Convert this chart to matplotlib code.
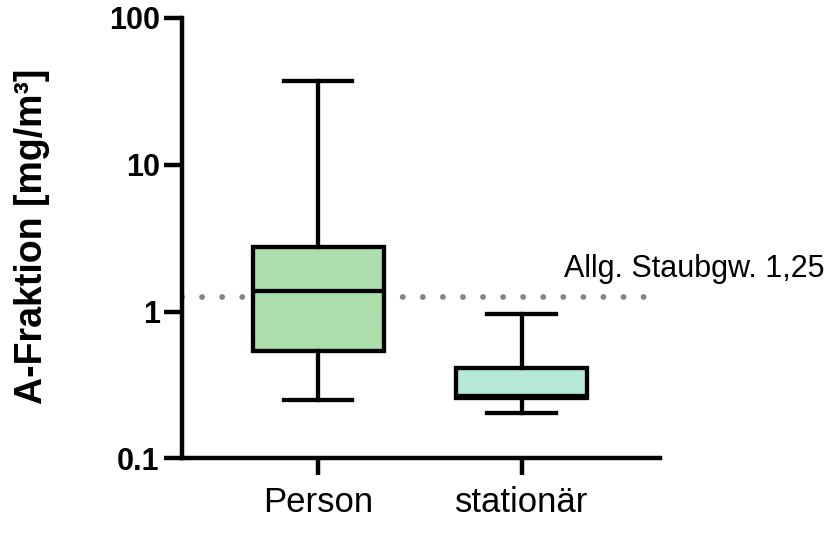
import matplotlib.pyplot as plt
from matplotlib.ticker import FixedLocator, NullLocator

plt.rcParams["font.family"] = ["Liberation Sans", "DejaVu Sans"]

# box summary per group (mg/m³)
groups = ["Person", "stationär"]
whisker_low = [0.252, 0.205]
q1 = [0.535, 0.26]
medians = [1.39, 0.265]
q3 = [2.77, 0.416]
whisker_high = [37.3, 0.955]
fills = ["#addfad", "#b5e8d5"]

limit_value = 1.25
limit_label = "Allg. Staubgw. 1,25"
y_ticks = [0.1, 1, 10, 100]
y_tick_labels = ["0.1", "1", "10", "100"]

stats = [
    {"label": g, "whislo": lo, "q1": a, "med": m, "q3": b, "whishi": hi}
    for g, lo, a, m, b, hi in zip(groups, whisker_low, q1, medians, q3, whisker_high)
]

fig = plt.figure(figsize=(8.31, 5.35), dpi=100)
ax = fig.add_axes([0.219, 0.143, 0.575, 0.824])

lw = 3.1
positions = [1, 2]
bp = ax.bxp(
    stats,
    positions=positions,
    widths=0.645,
    patch_artist=True,
    showfliers=False,
    boxprops=dict(linewidth=lw, edgecolor="black"),
    medianprops=dict(linewidth=lw, color="black", solid_capstyle="butt"),
    whiskerprops=dict(linewidth=lw, color="black"),
    capprops=dict(linewidth=lw, color="black"),
    capwidths=0.335,
)
for patch, c in zip(bp["boxes"], fills):
    patch.set_facecolor(c)

ax.set_yscale("log")
ax.set_ylim(0.1, 100)
ax.set_xlim(0.33, 2.68)

# reference limit line
ax.plot([0.33, 2.6], [limit_value, limit_value], color="#858585",
        linewidth=4.2, linestyle=(0, (0.01, 3.43)), dash_capstyle="round",
        zorder=1)
ax.text(2.21, 1.73, limit_label, fontsize=22, ha="left",
        va="baseline", clip_on=False)

ax.yaxis.set_major_locator(FixedLocator(y_ticks))
ax.yaxis.set_minor_locator(NullLocator())
ax.set_yticks(y_ticks)
ax.set_yticklabels(y_tick_labels, fontsize=22, fontweight="bold")
ax.set_xticks(positions)
ax.set_xticklabels(groups, fontsize=25)

fig.text(32 / 831, 0.559, "A-Fraktion [mg/m³]", fontsize=27,
         fontweight="bold", rotation=90, ha="center", va="center")

for side in ["top", "right"]:
    ax.spines[side].set_visible(False)
for side in ["left", "bottom"]:
    ax.spines[side].set_linewidth(3.2)
ax.tick_params(axis="y", width=3.2, length=13, pad=3)
ax.tick_params(axis="x", width=3.2, length=12, pad=8)

fig.savefig("out.png", dpi=100)
